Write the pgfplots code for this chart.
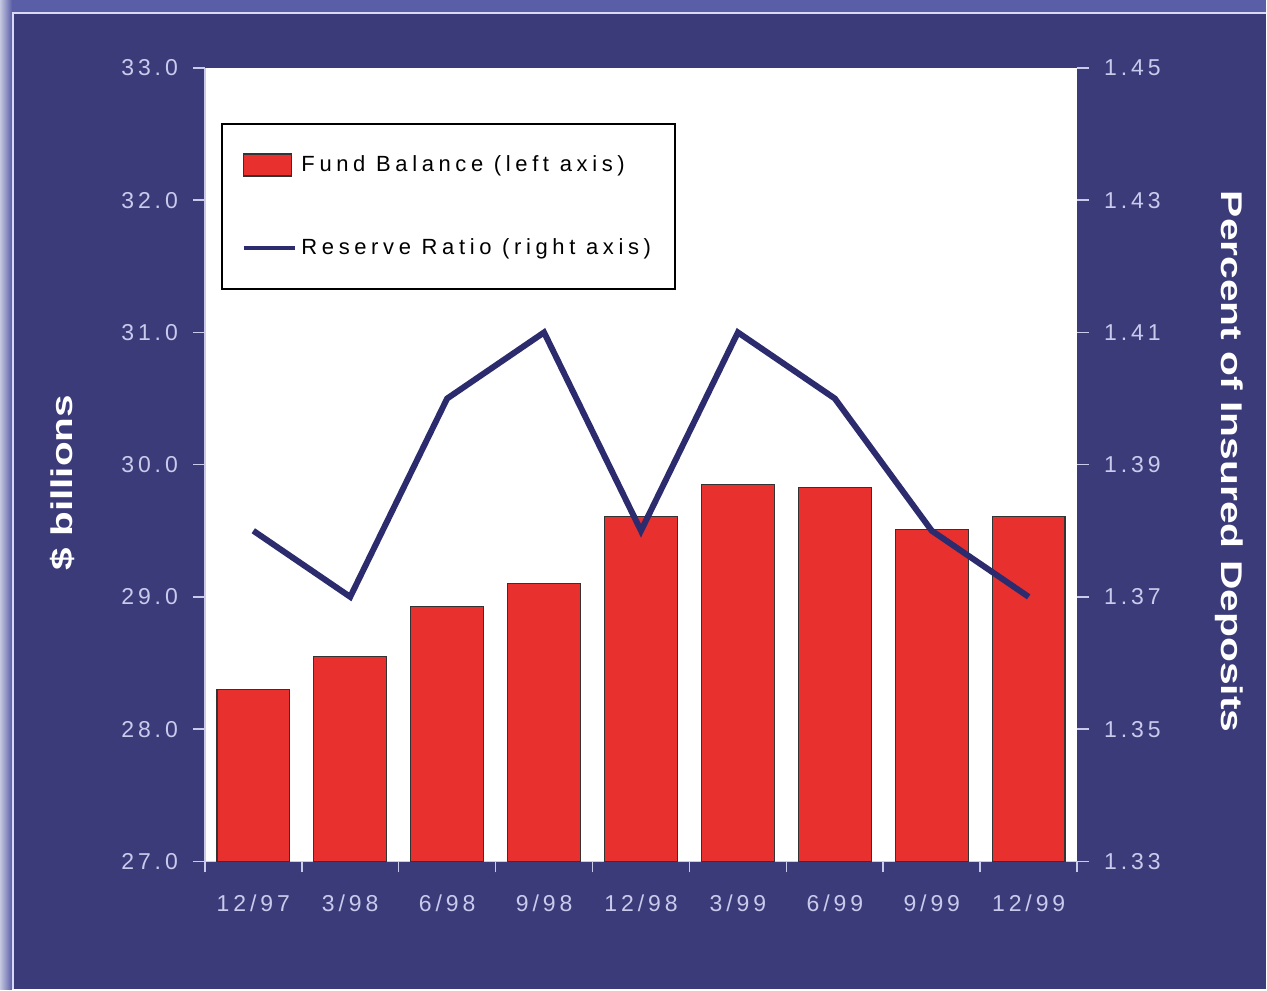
\documentclass[border=0pt]{standalone}
\usepackage{pgfplots}
\pgfplotsset{compat=1.18}
\usepackage{fontspec}
\setmainfont{Liberation Sans}
\newfontfamily\spaced[LetterSpace=17]{Liberation Sans}
\newfontfamily\legfont[LetterSpace=21]{Liberation Sans}
\definecolor{bgblue}{HTML}{3C3B7A}
\definecolor{frameblue}{HTML}{5A5EA6}
\definecolor{tickcol}{HTML}{C9CAEC}
\definecolor{barred}{HTML}{E8302F}
\definecolor{linenavy}{HTML}{2B2B6E}

\begin{document}
\begin{tikzpicture}
\fill[frameblue] (0,0) rectangle (633.5pt,495pt);
\shade[left color=frameblue!35!white, right color=frameblue] (0,0) rectangle (6pt,495pt);
\fill[bgblue] (6pt,0) rectangle (633.5pt,489pt);
\draw[tickcol!70, line width=1pt] (6.5pt,0) -- (6.5pt,488.5pt) -- (633.5pt,488.5pt);

\begin{axis}[
  at={(102.5pt,64pt)}, anchor=south west,
  scale only axis, width=436.5pt, height=397pt,
  xmin=-0.5, xmax=8.5, ymin=27, ymax=33,
  axis background/.style={fill=white},
  axis x line*=bottom, axis y line*=left,
  axis line style={tickcol, line width=0.8pt, -},
  tick align=outside,
  xtick={0,...,8},
  xticklabels={12/97,3/98,6/98,9/98,12/98,3/99,6/99,9/99,12/99},
  major x tick style={draw=none},
  minor xtick={-0.5,0.5,...,8.5},
  minor tick length=5.5pt, major tick length=6pt,
  every tick/.style={tickcol, line width=0.8pt},
  ytick={27,28,29,30,31,32,33},
  yticklabels={27.0,28.0,29.0,30.0,31.0,32.0,33.0},
  yticklabel style={xshift=-4pt},
  xticklabel style={yshift=-7pt},
  tick label style={font=\spaced\fontsize{11.5}{13}\selectfont, text=tickcol},
  ybar, bar width=0.75,
]
\addplot[fill=barred, draw=black!80, line width=0.6pt] coordinates {
  (0,28.30) (1,28.55) (2,28.93) (3,29.10) (4,29.61) (5,29.85) (6,29.83) (7,29.51) (8,29.61)};
\end{axis}

\begin{axis}[
  at={(102.5pt,64pt)}, anchor=south west,
  scale only axis, width=436.5pt, height=397pt,
  xmin=-0.5, xmax=8.5, ymin=1.33, ymax=1.45,
  axis x line=none, axis y line*=right,
  axis line style={draw=none},
  tick align=outside, major tick length=6pt,
  every tick/.style={tickcol, line width=0.8pt},
  ytick={1.33,1.35,1.37,1.39,1.41,1.43,1.45},
  yticklabels={1.33,1.35,1.37,1.39,1.41,1.43,1.45},
  yticklabel style={xshift=4pt},
  tick label style={font=\spaced\fontsize{11.5}{13}\selectfont, text=tickcol},
  legend style={at={(0.018,0.931)}, anchor=north west, draw=black, line width=1pt,
    fill=white, inner xsep=10pt, inner ysep=14pt, row sep=28pt,
    font=\legfont\fontsize{11}{13}\selectfont},
  legend cell align=left,
]
\addlegendimage{legend image code/.code={\draw[fill=barred,draw=black!80,line width=0.8pt] (0pt,-5.5pt) rectangle (24pt,5.5pt);}}
\addplot[linenavy, line width=3pt, legend image code/.code={\draw[linenavy,line width=2pt] (0pt,0pt) -- (26pt,0pt);}] coordinates {
  (0,1.38) (1,1.37) (2,1.40) (3,1.41) (4,1.38) (5,1.41) (6,1.40) (7,1.38) (8,1.37)};
\legend{Fund Balance (left axis), Reserve Ratio (right axis)}
\end{axis}

\node[rotate=90, text=white, font=\bfseries\fontsize{15}{18}\selectfont] at (31.5pt,253.5pt) {\scalebox{1.35}[1]{\$ billions}};
\node[rotate=-90, text=white, font=\bfseries\fontsize{15}{18}\selectfont] at (615pt,264pt) {\scalebox{1.36}[1]{Percent of Insured Deposits}};
\end{tikzpicture}
\end{document}
